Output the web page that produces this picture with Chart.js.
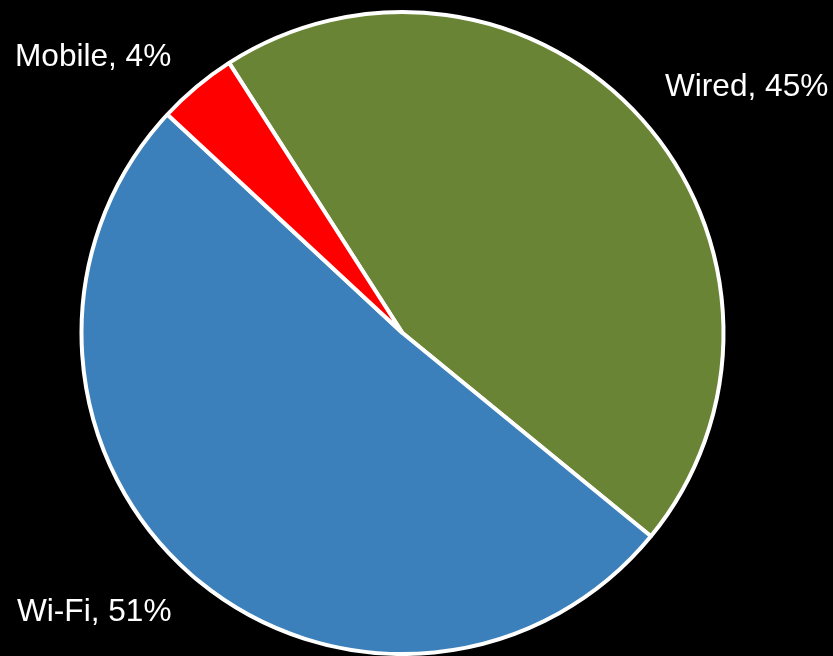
<!DOCTYPE html>
<html>
<head>
<meta charset="utf-8">
<script src="https://cdn.jsdelivr.net/npm/chart.js@4/dist/chart.umd.min.js"></script>
<style>
  body { margin: 0; background: #000; }
  #wrap { width: 833px; height: 656px; }
</style>
</head>
<body>
<div id="wrap"><canvas id="pie" width="833" height="656"></canvas></div>
<script>
const categories = ['Wired', 'Wi-Fi', 'Mobile'];
const shares = [45, 51, 4];
const colors = ['#6a8435', '#3b80ba', '#ff0000'];

// where each text label sits (left x, baseline y) - layout only
const labelSpots = [[665, 96], [17, 621], [15, 66]];

const outsideLabels = {
  id: 'outsideLabels',
  afterDraw(chart) {
    const ctx = chart.ctx;
    ctx.save();
    ctx.fillStyle = '#ffffff';
    ctx.font = '31.6px "Liberation Sans", Arial, sans-serif';
    ctx.textAlign = 'left';
    ctx.textBaseline = 'alphabetic';
    chart.data.labels.forEach((name, i) => {
      const v = chart.data.datasets[0].data[i];
      ctx.fillText(`${name}, ${v}%`, labelSpots[i][0], labelSpots[i][1]);
    });
    ctx.restore();
  }
};

new Chart(document.getElementById('pie').getContext('2d'), {
  type: 'pie',
  data: {
    labels: categories,
    datasets: [{
      data: shares,
      backgroundColor: colors,
      borderColor: '#ffffff',
      borderWidth: 4
    }]
  },
  options: {
    responsive: false,
    animation: false,
    rotation: -32.7,
    layout: { padding: { top: 10, bottom: 0, left: 0, right: 28 } },
    plugins: {
      legend: { display: false },
      tooltip: { enabled: false }
    }
  },
  plugins: [outsideLabels]
});
</script>
</body>
</html>
